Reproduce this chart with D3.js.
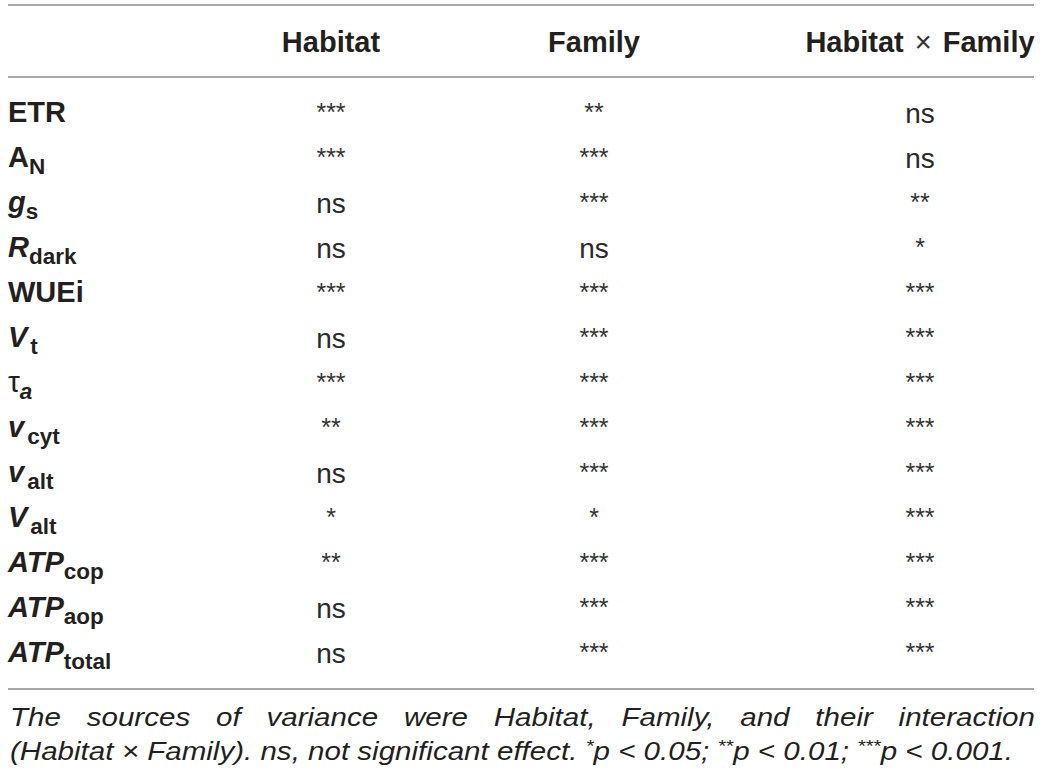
<!DOCTYPE html>
<html>
<head>
<meta charset="utf-8">
<script src="https://cdn.jsdelivr.net/npm/d3@7"></script>
<style>
  html, body { margin: 0; padding: 0; background: #fff; }
  svg { display: block; }
  text { font-family: "Liberation Sans", Arial, Helvetica, sans-serif; }
</style>
</head>
<body>
<svg id="chart" width="1042" height="775"></svg>
<script>
// ---- data ----
const columns = ["Habitat", "Family", "Habitat × Family"];
const rowMain = ["ETR", "A", "g", "R", "WUEi", "V", "τ", "v", "v", "V", "ATP", "ATP", "ATP"];
const rowSub  = ["",    "N", "s", "dark", "",   "t", "a", "cyt", "alt", "alt", "cop", "aop", "total"];
const habitat     = ["***", "***", "ns", "ns", "***", "ns", "***", "**", "ns", "*", "**", "ns", "ns"];
const family      = ["**", "***", "***", "ns", "***", "***", "***", "***", "***", "*", "***", "***", "***"];
const interaction = ["ns", "ns", "**", "*", "***", "***", "***", "***", "***", "***", "***", "***", "***"];
const footLine1 = "The sources of variance were Habitat, Family, and their interaction";
const footLine2 = ["(Habitat × Family). ns, not significant effect. ", "*", "p < 0.05; ", "**", "p < 0.01; ", "***", "p < 0.001."];

// ---- layout ----
const svg = d3.select("#chart");
const left = 8, right = 1034;
const ink = "#231f20";
const ruleColor = "#a8a8a8";

const x = d3.scaleOrdinal().domain(columns).range([331, 594, 920]);
const y = d3.scalePoint().domain(d3.range(rowMain.length)).range([122, 662]);

// rules
[5, 77, 689].forEach(yy => {
  svg.append("line").attr("x1", left).attr("x2", right).attr("y1", yy).attr("y2", yy)
    .attr("stroke", ruleColor).attr("stroke-width", 2);
});

// header
const head = svg.append("g");
columns.forEach(c => {
  const t = head.append("text").attr("x", x(c)).attr("y", 52)
    .attr("text-anchor", "middle").attr("font-size", 29).attr("font-weight", "bold").attr("fill", ink)
    .attr("xml:space", "preserve");
  if (c.includes("×")) {
    const parts = c.split("×");
    t.append("tspan").text(parts[0]);
    t.append("tspan").attr("font-weight", "normal").attr("fill", "#333").attr("dx", 3).text("×");
    t.append("tspan").attr("dx", 3).text(parts[1]);
  } else {
    t.text(c);
  }
});

// row labels
const italicMain = new Set(["g", "R", "V", "v", "ATP"]);
const rows = svg.append("g");
rowMain.forEach((m, i) => {
  const t = rows.append("text").attr("x", left).attr("y", y(i))
    .attr("font-size", 29).attr("font-weight", "bold").attr("fill", ink);
  const ms = t.append("tspan").text(m);
  if (italicMain.has(m)) ms.attr("font-style", "italic");
  if (m === "τ") ms.attr("font-weight", "normal").attr("font-size", 30);
  if (rowSub[i]) {
    const ss = t.append("tspan").attr("dy", 7).attr("font-size", 22.5).text(rowSub[i]);
    if (m === "τ") ss.attr("font-style", "italic");
    if (m === "V" || m === "v") ss.attr("dx", 3);
  }
});

// cells
const cols = [habitat, family, interaction];
const cells = svg.append("g");
cols.forEach((vals, ci) => {
  vals.forEach((v, i) => {
    const isStar = v.startsWith("*");
    cells.append("text")
      .attr("x", x(columns[ci]))
      .attr("y", isStar ? y(i) - 1 : y(i) + 1)
      .attr("text-anchor", "middle")
      .attr("font-size", isStar ? 25 : 28)
      .attr("fill", isStar ? "#333" : "#2a2a2a")
      .text(v);
  });
});

// footnote
const foot = svg.append("g").attr("font-style", "italic").attr("font-size", 25).attr("fill", ink);
const x0 = 10, x1 = 1035;

const l2 = foot.append("text").attr("x", x0).attr("y", 760).attr("xml:space", "preserve");
footLine2.forEach((p, k) => {
  if (/^\*+$/.test(p)) {
    l2.append("tspan").attr("dy", -8).attr("font-size", 17).text(p);
  } else {
    const ts = l2.append("tspan").text(p);
    if (k > 0) ts.attr("dy", 8);
  }
});
const natural = l2.node().getComputedTextLength();
const target2 = 1003;
const ratio = target2 / natural;
l2.attr("textLength", target2).attr("lengthAdjust", "spacingAndGlyphs");

const words = footLine1.split(" ");
const tmp = words.map(w => foot.append("text").attr("y", 726).text(w));
const widths = tmp.map(t => t.node().getComputedTextLength() * ratio);
tmp.forEach((t, i) => t.attr("textLength", widths[i]).attr("lengthAdjust", "spacingAndGlyphs"));
const total = d3.sum(widths);
const gap = (x1 - x0 - total) / (words.length - 1);
let cx = x0;
tmp.forEach((t, i) => { t.attr("x", cx); cx += widths[i] + gap; });
</script>
</body>
</html>
